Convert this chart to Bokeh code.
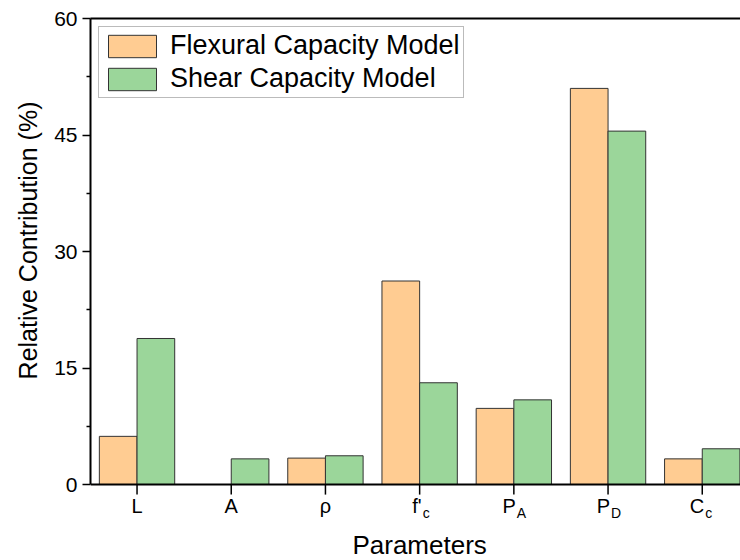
from bokeh.plotting import figure
from bokeh.models import (ColumnDataSource, Range1d, LinearAxis, Legend, LegendItem,
                          FixedTicker, Span, Title)
from bokeh.core.properties import value
from bokeh.transform import dodge
from bokeh.embed import file_html
from bokeh.resources import INLINE

# ---- data ----
params_main = ["L", "A", "ρ", "f'", "P", "P", "C"]
params_sub = ["", "", "", "c", "A", "D", "c"]
flexural = [6.2, 0.0, 3.4, 26.2, 9.8, 51.0, 3.3]
shear = [18.8, 3.3, 3.7, 13.1, 10.9, 45.5, 4.6]
y_ticks = [0, 15, 30, 45, 60]
y_minor = [7.5, 22.5, 37.5, 52.5]
x_title = "Parameters"
y_title = "Relative Contribution (%)"
series_names = ["Flexural Capacity Model", "Shear Capacity Model"]

FONT = "Liberation Sans"
idx = list(range(len(params_main)))
src = ColumnDataSource(dict(x=idx, flex=flexural, shear=shear))

# frame reaches the canvas bottom so that the category labels can be drawn in it
y_floor = -9.785
p = figure(width=740, height=560, output_backend="svg", toolbar_location=None,
           x_range=Range1d(-0.494, 6.406), y_range=Range1d(y_floor, 60),
           x_axis_location=None,
           min_border_left=90, min_border_right=0, min_border_top=18,
           min_border_bottom=0)
p.xgrid.visible = False
p.ygrid.visible = False
p.outline_line_color = None
p.background_fill_color = "white"
p.border_fill_color = "white"

r1 = p.vbar(x=dodge("x", -0.2, range=p.x_range), top="flex", width=0.4, bottom=0,
            source=src, fill_color="#FFCC92", line_color="#333333", line_width=1)
r2 = p.vbar(x=dodge("x", 0.2, range=p.x_range), top="shear", width=0.4, bottom=0,
            source=src, fill_color="#9BD69A", line_color="#333333", line_width=1)

# x axis line and ticks
p.add_layout(Span(location=0, dimension="width", line_color="black", line_width=2))
p.segment(x0=idx, x1=idx, y0=[0] * len(idx), y1=[-1.3] * len(idx),
          line_color="black", line_width=1.5)

# category labels (with subscripts)
plain = [i for i, s in enumerate(params_sub) if not s]
subbed = [i for i, s in enumerate(params_sub) if s]
p.text(x=plain, y=[-2.75] * len(plain), text=[params_main[i] for i in plain],
       text_align="center", text_baseline="middle", text_font=value(FONT),
       text_font_size="20px", text_color="black")
p.text(x=subbed, y=[-2.75] * len(subbed), text=[params_main[i] for i in subbed],
       text_align="right", x_offset=2, text_baseline="middle", text_font=value(FONT),
       text_font_size="20px", text_color="black")
p.text(x=subbed, y=[-2.75] * len(subbed), text=[params_sub[i] for i in subbed],
       text_align="left", x_offset=3, y_offset=7, text_baseline="middle",
       text_font=value(FONT), text_font_size="14px", text_color="black")
p.text(x=[(len(idx) - 1) / 2], y=[-7.85], text=[x_title], text_align="center",
       text_baseline="middle", text_font=value(FONT), text_font_size="26px",
       text_color="black")

# y axis
ya = p.yaxis[0]
ya.bounds = (0, 60)
ya.ticker = FixedTicker(ticks=y_ticks, minor_ticks=y_minor)
ya.axis_line_width = 2
ya.axis_line_color = "black"
ya.major_tick_in = 0
ya.major_tick_out = 8
ya.minor_tick_in = 0
ya.minor_tick_out = 4
ya.major_tick_line_width = 1.5
ya.minor_tick_line_width = 1.5
ya.major_label_text_font = FONT
ya.major_label_text_font_size = "21px"
ya.major_label_text_color = "black"
ya.major_label_standoff = 5

p.add_layout(Title(text=y_title, align="right", offset=83, standoff=20,
                   text_font=FONT, text_font_size="25px", text_font_style="normal",
                   text_color="black"), "left")

# top border line
top = LinearAxis(ticker=FixedTicker(ticks=[]), axis_line_width=2, axis_line_color="black",
                 major_tick_line_color=None, minor_tick_line_color=None)
p.add_layout(top, "above")

legend = Legend(items=[LegendItem(label=series_names[0], renderers=[r1]),
                       LegendItem(label=series_names[1], renderers=[r2])],
                location="top_left", glyph_width=60, glyph_height=28, label_height=28,
                label_text_font=FONT, label_text_font_size="27px",
                label_text_color="black", border_line_color="#777777",
                border_line_width=1.5, padding=3, spacing=2, margin=8,
                label_standoff=8, background_fill_alpha=1)
p.add_layout(legend)

open("out.html", "w").write(file_html(p, INLINE))
